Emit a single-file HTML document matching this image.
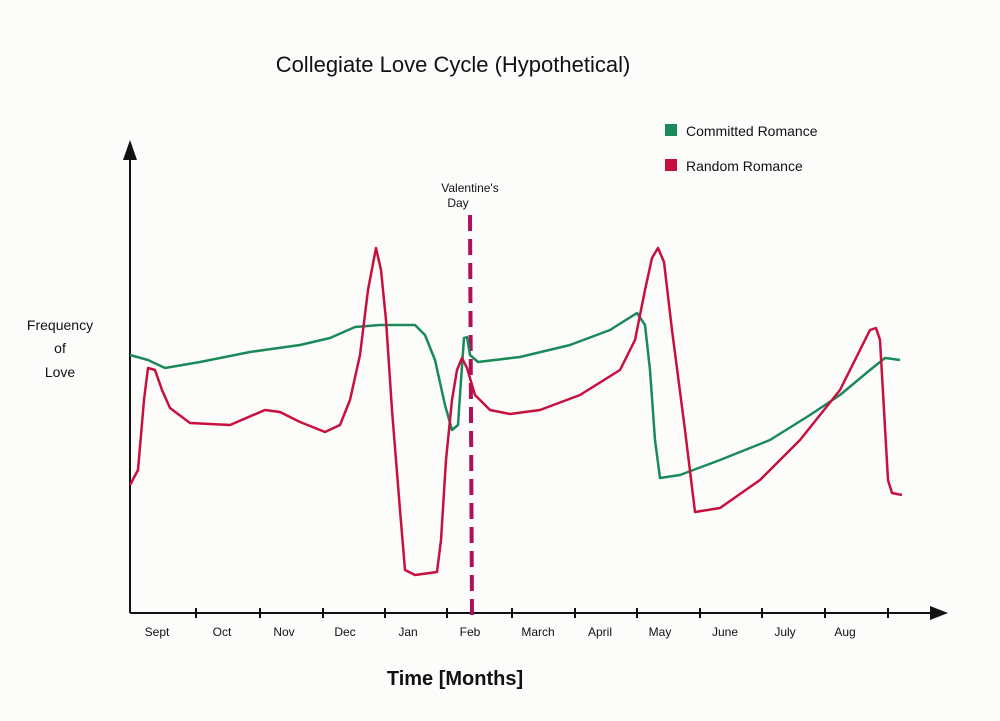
<!DOCTYPE html>
<html><head><meta charset="utf-8"><style>
html,body{margin:0;padding:0;background:#fcfcfb;}
svg{display:block;}
text{font-family:"Liberation Sans",sans-serif;fill:#111;}
</style></head><body>
<svg width="1000" height="721" viewBox="0 0 1000 721">
<rect width="1000" height="721" fill="#fcfcfb"/>
<text x="453" y="72" font-size="22" text-anchor="middle">Collegiate Love Cycle (Hypothetical)</text>
<!-- axes -->
<line x1="130" y1="150" x2="130" y2="613" stroke="#111" stroke-width="2"/>
<polygon points="130,140 123,160 137,160" fill="#111"/>
<line x1="130" y1="613" x2="938" y2="613" stroke="#111" stroke-width="2"/>
<polygon points="948,613 930,606 930,620" fill="#111"/>
<g stroke="#111" stroke-width="2">
<line x1="196" y1="608" x2="196" y2="618"/><line x1="260" y1="608" x2="260" y2="618"/>
<line x1="323" y1="608" x2="323" y2="618"/><line x1="385" y1="608" x2="385" y2="618"/>
<line x1="447" y1="608" x2="447" y2="618"/><line x1="512" y1="608" x2="512" y2="618"/>
<line x1="575" y1="608" x2="575" y2="618"/><line x1="637" y1="608" x2="637" y2="618"/>
<line x1="700" y1="608" x2="700" y2="618"/><line x1="762" y1="608" x2="762" y2="618"/>
<line x1="825" y1="608" x2="825" y2="618"/><line x1="888" y1="608" x2="888" y2="618"/>
</g>
<g font-size="12" text-anchor="middle">
<text x="157" y="636">Sept</text><text x="222" y="636">Oct</text><text x="284" y="636">Nov</text>
<text x="345" y="636">Dec</text><text x="408" y="636">Jan</text><text x="470" y="636">Feb</text>
<text x="538" y="636">March</text><text x="600" y="636">April</text><text x="660" y="636">May</text>
<text x="725" y="636">June</text><text x="785" y="636">July</text><text x="845" y="636">Aug</text>
</g>
<text x="455" y="685" font-size="20" text-anchor="middle" font-weight="bold">Time [Months]</text>
<g font-size="14" text-anchor="middle">
<text x="60" y="330">Frequency</text><text x="60" y="353">of</text><text x="60" y="377">Love</text>
</g>
<!-- valentine -->
<line x1="470" y1="215" x2="472" y2="615" stroke="#b0105a" stroke-width="4" stroke-dasharray="16,8"/>
<text x="470" y="192" font-size="12" text-anchor="middle">Valentine's</text>
<text x="458" y="207" font-size="12" text-anchor="middle">Day</text>
<!-- legend -->
<rect x="665" y="124" width="12" height="12" fill="#1a8a5a"/>
<text x="686" y="136" font-size="14">Committed Romance</text>
<rect x="665" y="159" width="12" height="12" fill="#c8103f"/>
<text x="686" y="171" font-size="14">Random Romance</text>
<!-- series -->
<polyline fill="none" stroke="#1a8a5a" stroke-width="2.5" stroke-linejoin="round" points="130,355 148,360 165,368 200,362 250,352 300,345 330,338 355,327 380,325 415,325 425,335 435,360 445,405 452,430 458,425 461,380 464,338 467,337 470,355 478,362 520,357 570,345 610,330 637,313 645,325 650,370 655,440 660,478 680,475 720,460 770,440 810,415 840,395 870,370 885,358 900,360"/>
<polyline fill="none" stroke="#c8103f" stroke-width="2.5" stroke-linejoin="round" points="130,485 138,470 144,400 148,368 155,370 162,390 170,408 190,423 230,425 265,410 280,412 300,422 325,432 340,425 350,400 360,355 368,290 376,248 381,270 386,320 392,410 400,510 405,570 415,575 437,572 441,540 446,460 452,400 457,370 462,358 467,368 475,395 490,410 510,414 540,410 580,395 620,370 635,340 645,290 652,258 658,248 664,262 672,330 685,430 695,512 720,508 760,480 800,440 840,390 860,350 870,330 876,328 880,340 884,410 888,480 892,493 902,495"/>
</svg>
</body></html>
